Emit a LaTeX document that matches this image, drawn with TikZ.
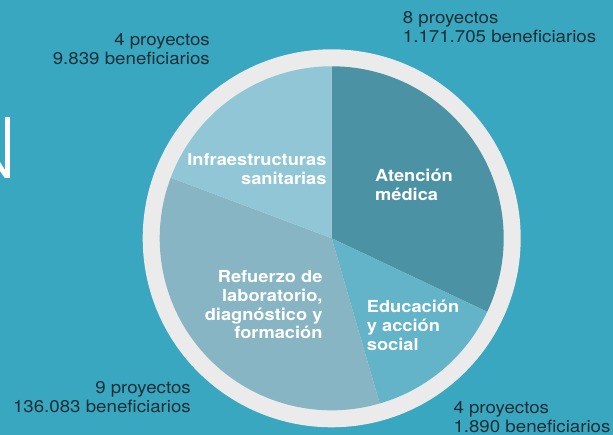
\documentclass[tikz,border=0pt]{standalone}
\usepackage{fontspec}
\newfontfamily\hn[FakeStretch=1.1]{TeX Gyre Heros}
\definecolor{bg}{HTML}{38A7BF}
\definecolor{ring}{HTML}{EBEBEB}
\definecolor{atenc}{HTML}{4A92A4}
\definecolor{educ}{HTML}{63B3C9}
\definecolor{refu}{HTML}{88B5C4}
\definecolor{infra}{HTML}{90C6D6}
\definecolor{dark}{HTML}{1D2E36}
\tikzset{
  outlab/.style={font=\hn\fontsize{17}{18.8}\selectfont, text=dark, inner sep=0pt},
  slicelab/.style={font=\hn\bfseries\fontsize{16.6}{18.7}\selectfont, text=white, inner sep=0pt},
}
\begin{document}
\begin{tikzpicture}[x=1pt,y=1pt]
\fill[bg] (0,0) rectangle (613,435);
\useasboundingbox (0,0) rectangle (613,435);
% letter fragment at left edge
\fill[white] (5,{435-116.7}) rectangle (10,{435-178.3});
\fill[white] (0,{435-162}) -- (5,{435-170}) -- (5,{435-178.3}) -- (0,{435-171}) -- cycle;
% pie
\coordinate (c) at (331.7,196.7);
\fill[ring] (c) circle[radius=189pt];
\fill[atenc] (c) -- ++(90:172pt) arc[start angle=90, end angle=-25.3, radius=172pt] -- cycle;
\fill[educ] (c) -- ++(-25.3:172pt) arc[start angle=-25.3, end angle=-73.8, radius=172pt] -- cycle;
\fill[refu] (c) -- ++(-73.8:172pt) arc[start angle=-73.8, end angle=-200.6, radius=172pt] -- cycle;
\fill[infra] (c) -- ++(159.4:172pt) arc[start angle=159.4, end angle=90, radius=172pt] -- cycle;
% slice labels
\node[slicelab, anchor=east, align=right] (infl) at (326.7,{435-168.7}) {Infraestructuras\\sanitarias};
\node[slicelab, anchor=west, align=left] (atl) at (375,{435-185}) {Atención\\médica};
\node[slicelab, anchor=east, align=right] (rel) at (322.7,{435-304.7}) {Refuerzo de\\laboratorio,\\diagnóstico y\\formación};
\node[slicelab, anchor=west, align=left] (edl) at (366.7,{435-325.5}) {Educación\\y acción\\social};
% outside labels
\node[outlab, anchor=east, align=right] (tl) at (210,{435-49}) {4 proyectos\\9.839 beneficiarios};
\node[outlab, anchor=west, align=left] (tr) at (402.7,{435-27.5}) {8 proyectos\\1.171.705 beneficiarios};
\node[outlab, anchor=east, align=right] (bl) at (191,{435-397.5}) {9 proyectos\\136.083 beneficiarios};
\node[outlab, anchor=west, align=left] (br) at (453.3,{435-417}) {4 proyectos\\1.890 beneficiarios};
\end{tikzpicture}
\end{document}
